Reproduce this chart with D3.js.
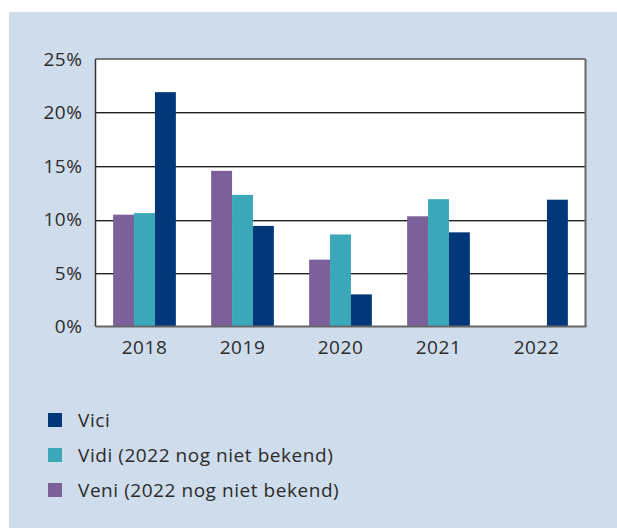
<!DOCTYPE html>
<html>
<head>
<meta charset="utf-8">
<script src="https://cdn.jsdelivr.net/npm/d3@7"></script>
<style>
  body { margin: 0; background: #fff; }
  text { font-family: "Open Sans", "Noto Sans", sans-serif; fill: #2b2b2b; letter-spacing: 0.55px; }
</style>
</head>
<body>
<script>
const years = ["2018", "2019", "2020", "2021", "2022"]
const seriesNames = ["Veni", "Vidi", "Vici"]
const veni = [10.45, 14.55, 6.25, 10.3, null]
const vidi = [10.6, 12.3, 8.6, 11.9, null]
const vici = [21.9, 9.4, 3.0, 8.8, 11.85]
const yTicks = [0, 5, 10, 15, 20, 25]
const legendLabels = ["Vici", "Vidi (2022 nog niet bekend)", "Veni (2022 nog niet bekend)"]
const legendKeys = ["Vici", "Vidi", "Veni"]

const colors = { Veni: "#7b6099", Vidi: "#3aa8b8", Vici: "#02377a" }

const width = 617
const height = 528
const plot = { left: 95.5, top: 59, right: 585.5, bottom: 326.5 }

const svg = d3.select("body").append("svg")
    .attr("width", width)
    .attr("height", height)

// panel
svg.append("rect")
    .attr("x", 9).attr("y", 12)
    .attr("width", width - 9).attr("height", height - 12)
    .attr("fill", "#cfdcec")

svg.append("rect")
    .attr("x", plot.left).attr("y", plot.top)
    .attr("width", plot.right - plot.left).attr("height", plot.bottom - plot.top)
    .attr("fill", "#fff")

const x = d3.scaleBand()
    .domain(years)
    .range([plot.left, plot.right])
    .paddingInner(0.36)
    .paddingOuter(0.18)

const xInner = d3.scaleBand()
    .domain(seriesNames)
    .range([0, x.bandwidth()])

const y = d3.scaleLinear()
    .domain([0, 25])
    .range([plot.bottom, plot.top])

// gridlines
const grid = svg.append("g")
grid.selectAll("line.dark")
    .data(yTicks.filter(d => d > 0 && d < 25))
    .join("line")
    .attr("class", "dark")
    .attr("x1", plot.left).attr("x2", plot.right)
    .attr("y1", d => Math.round(y(d)) + 0.5).attr("y2", d => Math.round(y(d)) + 0.5)
    .attr("stroke", "#222").attr("stroke-width", 1)
grid.selectAll("line.light")
    .data(yTicks.filter(d => d > 0 && d < 25))
    .join("line")
    .attr("class", "light")
    .attr("x1", plot.left).attr("x2", plot.right)
    .attr("y1", d => Math.round(y(d)) + 1.5).attr("y2", d => Math.round(y(d)) + 1.5)
    .attr("stroke", "#aaa").attr("stroke-width", 1)

// bars
const data = years.map((yr, i) => ({ year: yr, Veni: veni[i], Vidi: vidi[i], Vici: vici[i] }))

svg.append("g")
    .selectAll("g")
    .data(data)
    .join("g")
    .attr("transform", d => `translate(${x(d.year)},0)`)
    .selectAll("rect")
    .data(d => seriesNames.map(k => ({ key: k, value: d[k] })).filter(e => e.value != null))
    .join("rect")
    .attr("x", d => xInner(d.key))
    .attr("width", xInner.bandwidth())
    .attr("y", d => y(d.value))
    .attr("height", d => y(0) - y(d.value))
    .attr("fill", d => colors[d.key])

// frame
svg.append("line")
    .attr("x1", plot.left).attr("x2", plot.right)
    .attr("y1", plot.top).attr("y2", plot.top)
    .attr("stroke", "#555").attr("stroke-width", 1.5)
svg.append("line")
    .attr("x1", plot.left).attr("x2", plot.left)
    .attr("y1", plot.top).attr("y2", plot.bottom)
    .attr("stroke", "#333").attr("stroke-width", 1.5)
svg.append("line")
    .attr("x1", plot.right).attr("x2", plot.right)
    .attr("y1", plot.top).attr("y2", plot.bottom)
    .attr("stroke", "#666").attr("stroke-width", 2)
svg.append("line")
    .attr("x1", plot.left).attr("x2", plot.right + 1)
    .attr("y1", plot.bottom).attr("y2", plot.bottom)
    .attr("stroke", "#666").attr("stroke-width", 2)

// axes labels
const yAxis = svg.append("g")
    .attr("transform", `translate(${plot.left - 13},0)`)
    .call(d3.axisLeft(y).tickValues(yTicks).tickFormat(d => d + "%").tickSize(0).tickPadding(0))
yAxis.select(".domain").remove()
yAxis.selectAll("text")
    .attr("font-size", 19)
    .attr("font-family", null)
    .attr("fill", "#2b2b2b")

const xAxis = svg.append("g")
    .attr("transform", `translate(0,${plot.bottom})`)
    .call(d3.axisBottom(x).tickSize(0).tickPadding(14))
xAxis.select(".domain").remove()
xAxis.selectAll("text")
    .attr("font-size", 19)
    .attr("font-family", null)
    .attr("fill", "#2b2b2b")

// legend
const legend = svg.append("g")
    .selectAll("g")
    .data(legendKeys)
    .join("g")
    .attr("transform", (d, i) => `translate(48,${427 + i * 35})`)
legend.append("rect")
    .attr("x", 0).attr("y", -14)
    .attr("width", 14).attr("height", 14)
    .attr("fill", d => colors[d])
legend.append("text")
    .attr("x", 30).attr("y", 0)
    .attr("font-size", 19)
    .text((d, i) => legendLabels[i])
</script>
</body>
</html>
